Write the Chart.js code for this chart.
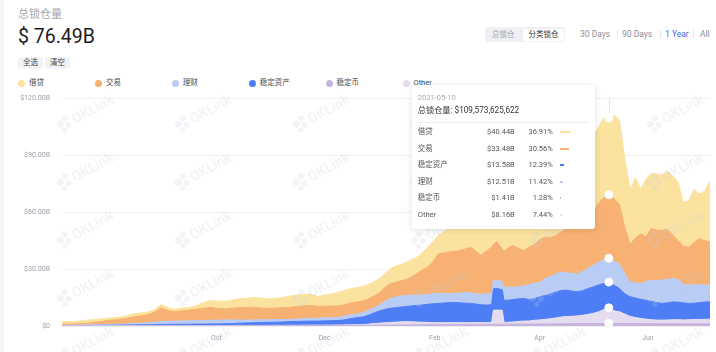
<!DOCTYPE html>
<html>
<head>
<meta charset="utf-8">
<script src="https://cdn.jsdelivr.net/npm/chart.js@4.4.1/dist/chart.umd.min.js"></script>
<style>
html,body{margin:0;padding:0;width:716px;height:352px;overflow:hidden;background:#f3f5f9;font-family:Roboto,"Noto Sans CJK SC",sans-serif;}
#card{position:absolute;left:4px;top:0;width:712px;height:352px;background:#fff;}
#title{position:absolute;left:18px;top:8px;font-size:11px;line-height:14px;color:#a3a7b0;}
#total{position:absolute;left:18px;top:26px;font-size:19.5px;line-height:22px;color:#1c1d21;}
.btn{position:absolute;top:57px;height:12px;line-height:12px;padding:0 5px;font-size:7.5px;color:#444;background:#f1f3f7;border-radius:3px;}
#seg{position:absolute;left:485px;top:27px;width:80px;height:15px;background:#eef0f4;border-radius:3px;font-size:7.5px;}
#seg .off{position:absolute;left:7px;top:0;line-height:15px;color:#a0a5ae;}
#seg .on{position:absolute;left:38px;top:1.5px;width:41px;height:12px;line-height:12px;text-align:center;background:#fff;border-radius:2px;color:#333;}
.rg{position:absolute;top:28px;font-size:8.5px;line-height:12px;color:#8b909a;}
.rg.act{color:#3b6ee8;}
.sep{position:absolute;top:30px;width:1px;height:8px;background:#e2e4ea;}
.lg{position:absolute;top:78px;height:10px;font-size:7.5px;line-height:10px;color:#4a4a4a;white-space:nowrap;}
.lg b{position:absolute;left:0;top:1.5px;width:7px;height:7px;border-radius:50%;}
.lg span{position:absolute;left:11px;top:0;}
#wrap{position:absolute;left:0;top:82px;width:716px;height:270px;}
#tip{position:absolute;display:none;width:171px;padding:7px 6px 6px 6px;background:#fff;border-radius:3px;box-shadow:0 1px 6px rgba(0,0,0,0.12);color:#555;}
#tip .d{font-size:7.5px;line-height:11px;color:#a8acb5;}
#tip .t{font-size:8.2px;line-height:13px;color:#333;margin-top:1px;}
#tip .s{border-top:1px solid #eceef2;margin:5px 0 1px 0;}
#tip .r{position:relative;height:16.5px;font-size:7.5px;line-height:16.5px;}
#tip .r .n{position:absolute;left:0;}
#tip .r .v{position:absolute;right:74px;}
#tip .r .p{position:absolute;right:36px;}
#tip .r i{position:absolute;left:142px;top:7px;height:2px;}
</style>
</head>
<body>
<div id="card"></div>
<div id="title">总锁仓量</div>
<div id="total"></div>
<div class="btn" style="left:18px">全选</div>
<div class="btn" style="left:45px">清空</div>
<div id="seg"><span class="off">总锁仓</span><span class="on">分类锁仓</span></div>
<span class="rg" style="left:580px">30 Days</span><i class="sep" style="left:617px"></i>
<span class="rg" style="left:622px">90 Days</span><i class="sep" style="left:660px"></i>
<span class="rg act" style="left:665px">1 Year</span><i class="sep" style="left:693px"></i>
<span class="rg" style="left:700px">All</span>
<div id="legend"></div>
<div id="wrap"><canvas id="c" width="716" height="270"></canvas><div id="tip"></div></div>
<script>
// day 0 = 2020-07-06
const startDate = Date.UTC(2020, 6, 6);

const days = [0,4,8,12,16,20,24,28,32,36,40,44,48,52,56,60,64,68,72,76,80,84,88,92,96,100,104,108,112,116,120,124,128,132,136,140,144,148,152,
  155,158,161,164,167,170,173,176,179,182,185,188,191,194,197,200,203,206,209,212,215,218,221,224,227,230,233,236,239,242,243,245,248,249,251,254,257,260,
  263,266,269,272,275,278,281,284,287,290,293,296,299,302,305,308,311,314,317,320,323,326,329,332,335,338,341,344,347,350,353,356,359,362,365];

// billions of USD
const lending = [1.4,1.3,1.4,1.6,1.7,1.5,1.3,1.3,1.2,1.2,1.7,1.5,1.3,1.4,1.7,1.6,1.2,1.4,1.5,1.9,3.2,3.6,3.9,4.0,4.3,4.6,4.8,5.2,5.1,4.9,5.1,5.4,5.9,6.0,5.9,5.8,5.2,5.9,6.4,
  7.0,7.3,7.6,7.6,7.5,7.6,7.5,7.5,7.5,7.3,7.8,8.6,8.6,9.0,9.0,8.4,9.1,10.5,10.5,9.9,11.0,13.0,15.7,20.2,22.5,23.5,20.5,19.8,21.5,22.5,22.0,22.5,24.5,25.5,27.0,27.5,31.0,29.2,
  30.5,32.0,32.5,33.2,36.5,38.5,39.5,41.0,40.5,38.0,39.5,40.0,41.0,40.0,42.0,40.441325622,44.0,44.5,36.0,29.0,31.5,23.5,30.5,29.0,29.5,29.2,30.5,31.0,31.0,23.0,24.5,28.0,23.5,26.0,32.3];
const trading = [0.6,0.65,0.7,0.8,1.0,1.4,1.9,2.1,2.4,2.9,3.4,3.8,4.3,5.2,7.2,5.5,5.0,5.4,5.6,6.0,6.5,6.8,6.1,5.8,6.2,6.6,6.7,6.7,6.2,6.0,6.0,6.2,6.3,6.6,6.8,7.0,6.2,6.1,6.2,
  6.0,6.0,6.2,6.3,6.4,6.2,6.0,6.2,6.5,7.5,7.8,7.8,8.0,8.3,9.8,11.5,13.2,14.4,17.0,20.9,21.5,21.8,22.2,22.5,22.9,24.0,22.5,20.5,22.6,24.3,19.0,20.4,17.2,19.0,20.4,22.1,20.3,18.8,
  19.7,20.5,22.7,21.8,20.5,20.2,21.0,23.0,24.7,24.8,26.0,26.8,27.2,31.0,32.5,33.4822,33.0,31.5,24.5,19.8,23.9,26.2,23.5,27.4,26.5,26.1,26.5,23.0,20.4,20.0,20.0,22.2,24.3,23.5,22.5];
const wealth = [0.18,0.2,0.25,0.29,0.36,0.4,0.44,0.52,0.55,0.6,0.78,0.9,1.02,1.3,1.6,1.62,1.7,1.82,1.85,1.9,1.88,1.95,2.0,2.0,1.9,1.6,1.5,1.5,1.5,1.4,1.4,1.3,1.2,1.2,1.3,1.4,1.5,1.6,1.6,
  1.6,1.9,2.0,1.9,1.9,2.3,2.7,2.8,3.0,4.2,5.3,5.5,5.8,5.9,5.6,5.4,5.2,5.2,5.3,5.2,4.9,4.9,4.7,5.1,5.6,5.6,5.4,5.5,5.9,5.9,4.4,4.3,4.3,6.8,7.0,6.5,6.4,6.5,
  7.8,8.1,7.4,9.0,9.2,9.5,9.8,9.1,9.4,9.2,10.0,10.6,11.3,12.0,12.6,12.5092,12.5,12.7,10.5,7.8,7.8,8.3,9.9,11.1,11.7,12.3,12.3,12.3,12.0,9.8,9.6,9.8,9.4,8.9,8.9];
const stableAssets = [0.06,0.07,0.09,0.11,0.14,0.2,0.22,0.27,0.3,0.36,0.39,0.44,0.46,0.52,0.6,0.64,0.69,0.68,0.73,0.76,0.75,0.8,0.83,0.93,1.0,1.2,1.28,1.4,1.46,1.57,1.64,1.75,1.92,2.0,2.1,2.15,2.14,2.23,2.3,
  2.38,2.55,3.0,3.45,3.8,4.1,4.8,5.7,6.5,7.1,7.4,7.7,7.8,8.0,8.4,8.8,9.1,9.5,9.9,10.2,10.4,10.6,10.6,10.5,10.3,10.2,9.8,9.4,9.2,9.4,11.3,11.4,10.7,11.6,11.7,11.8,11.9,11.9,
  11.4,11.4,12.2,12.5,13.0,13.6,14.0,13.9,13.3,12.7,12.9,13.5,13.9,14.1,13.8,13.5801,13.5,12.3,10.7,10.4,10.3,10.0,10.0,9.7,9.2,8.8,9.0,9.4,9.3,9.0,8.6,8.6,8.9,9.1,9.2];
const stablecoins = [0.03,0.03,0.03,0.04,0.04,0.05,0.05,0.05,0.06,0.06,0.07,0.07,0.08,0.08,0.09,0.09,0.1,0.1,0.1,0.11,0.11,0.12,0.12,0.13,0.13,0.14,0.15,0.15,0.16,0.17,0.18,0.19,0.2,0.21,0.22,0.23,0.24,0.26,0.28,
  0.3,0.31,0.33,0.34,0.36,0.37,0.41,0.42,0.45,0.48,0.5,0.53,0.55,0.58,0.6,0.61,0.65,0.66,0.69,0.7,0.73,0.74,0.77,0.78,0.82,0.81,0.84,0.87,0.88,0.91,0.91,0.92,0.95,0.95,0.96,0.99,1.0,1.03,
  1.04,1.07,1.08,1.11,1.12,1.16,1.18,1.21,1.22,1.26,1.28,1.31,1.33,1.37,1.39,1.4052,1.39,1.36,1.33,1.29,1.26,1.25,1.23,1.22,1.2,1.21,1.19,1.18,1.17,1.17,1.16,1.16,1.15,1.15,1.2];
const other = [0.03,0.04,0.05,0.05,0.06,0.06,0.07,0.08,0.08,0.09,0.09,0.1,0.1,0.11,0.11,0.11,0.11,0.12,0.13,0.13,0.14,0.14,0.15,0.15,0.16,0.16,0.16,0.17,0.17,0.17,0.17,0.17,0.18,0.19,0.2,0.21,0.22,0.22,0.22,
  0.22,0.24,0.28,0.31,0.35,0.43,0.6,0.88,1.05,1.23,1.4,1.48,1.65,1.73,1.6,1.48,1.36,1.24,1.12,1.0,0.98,0.96,1.04,0.92,0.9,0.88,0.96,0.94,0.92,1.0,7.39,7.48,7.36,0.95,0.94,1.12,1.4,1.58,
  1.56,1.94,2.12,2.4,2.68,3.05,3.52,3.8,3.88,4.05,4.32,4.8,5.27,6.04,7.21,8.1556,6.61,6.13,4.97,3.72,3.24,2.75,2.36,2.08,1.9,1.9,2.01,2.12,2.12,2.03,2.13,2.24,2.24,2.35,2.39];

const tickDays = [87, 148, 210, 269, 330];
const tickLabels = ['Oct', 'Dec', 'Feb', 'Apr', 'Jun'];
const yTicks = [0, 30, 60, 90, 120];
const yTickLabels = ['$0', '$30.00B', '$60.00B', '$90.00B', '$120.00B'];
const hoverDay = 308;

// legend order
const series = [
  { name: '借贷', values: lending, color: '#fce29f' },
  { name: '交易', values: trading, color: '#f7b172' },
  { name: '理财', values: wealth, color: '#b8ccf6' },
  { name: '稳定资产', values: stableAssets, color: '#4d7ef6' },
  { name: '稳定币', values: stablecoins, color: '#c7b4dd' },
  { name: 'Other', values: other, color: '#e5dcef' }
];
// bottom to top
const stackOrder = ['稳定币', 'Other', '稳定资产', '理财', '交易', '借贷'];

const last = days.length - 1;
const lastTotal = series.reduce((a, s) => a + s.values[last], 0);
document.getElementById('total').textContent = '$ ' + lastTotal.toFixed(2) + 'B';

const legend = document.getElementById('legend');
series.forEach((s, i) => {
  const d = document.createElement('div');
  d.className = 'lg';
  d.style.left = (18 + i * 76.9) + 'px';
  d.innerHTML = '<b style="background:' + s.color + '"></b><span>' + s.name + '</span>';
  legend.appendChild(d);
});

function fmt(v) { return '$' + v.toFixed(2) + 'B'; }

function externalTooltip(ctx) {
  const chart = ctx.chart, tooltip = ctx.tooltip;
  const el = document.getElementById('tip');
  if (tooltip.opacity === 0 || !tooltip.dataPoints || !tooltip.dataPoints.length) {
    el.style.display = 'none';
    return;
  }
  const i = tooltip.dataPoints[0].dataIndex;
  const rows = series.map(s => ({ name: s.name, v: s.values[i], color: s.color }));
  const total = rows.reduce((a, r) => a + r.v, 0);
  rows.sort((a, b) => ((a.name === 'Other') - (b.name === 'Other')) || (b.v - a.v));
  const date = new Date(startDate + days[i] * 864e5).toISOString().slice(0, 10);
  let html = '<div class="d">' + date + '</div>' +
    '<div class="t">总锁仓量: $' + Math.round(total * 1e9).toLocaleString('en-US') + '</div><div class="s"></div>';
  rows.forEach(r => {
    const pct = r.v / total * 100;
    html += '<div class="r"><span class="n">' + r.name + '</span><span class="v">' + fmt(r.v) +
      '</span><span class="p">' + pct.toFixed(2) + '%</span><i style="width:' + Math.max(1, pct * 0.3) +
      'px;background:' + r.color + '"></i></div>';
  });
  el.innerHTML = html;
  el.style.display = 'block';
  el.style.left = (tooltip.caretX - 14 - el.offsetWidth) + 'px';
  el.style.top = (chart.chartArea.top - 13) + 'px';
}

const hoverLine = {
  id: 'hoverLine',
  beforeDatasetsDraw(chart) {
    const a = chart.getActiveElements();
    if (!a.length) return;
    const x = Math.round(a[0].element.x) + 0.5;
    const c = chart.ctx;
    c.save();
    c.strokeStyle = '#e2e5eb';
    c.lineWidth = 1;
    c.beginPath();
    c.moveTo(x, chart.chartArea.top);
    c.lineTo(x, chart.chartArea.bottom);
    c.stroke();
    c.restore();
  }
};

const watermark = {
  id: 'watermark',
  afterDatasetsDraw(chart) {
    const c = chart.ctx;
    c.save();
    c.fillStyle = 'rgba(200,207,222,0.24)';
    c.font = 'bold 14px Roboto, sans-serif';
    for (let r = 0; r < 5; r++) {
      for (let k = 0; k < 6; k++) {
        c.save();
        c.translate(85 + k * 118, 113 + r * 58 - 82);
        c.rotate(-0.5);
        [[-27, -2, 3.6], [-20, -5, 3], [-20, 2.5, 3], [-26, 5.5, 2.6]].forEach(p => {
          c.beginPath(); c.arc(p[0], p[1], p[2], 0, Math.PI * 2); c.fill();
        });
        c.fillText('OKLink', -14, 5);
        c.restore();
      }
    }
    c.restore();
  }
};

Chart.defaults.font.family = 'Roboto, "Noto Sans CJK SC", sans-serif';

const datasets = stackOrder.map((name, k) => {
  const s = series.find(x => x.name === name);
  return {
    label: name,
    data: days.map((d, i) => ({ x: d, y: s.values[i] })),
    backgroundColor: s.color,
    borderColor: s.color,
    borderWidth: 1,
    fill: k === 0 ? 'origin' : '-1',
    pointRadius: 0,
    pointHoverRadius: 4,
    pointHoverBackgroundColor: '#fff',
    pointHoverBorderColor: '#fff',
    pointHoverBorderWidth: 1
  };
});

const chart = new Chart(document.getElementById('c'), {
  type: 'line',
  data: { datasets },
  options: {
    responsive: false,
    animation: false,
    layout: { padding: { top: 3, right: 6, left: 0, bottom: 0 } },
    interaction: { mode: 'index', intersect: false },
    plugins: {
      legend: { display: false },
      tooltip: { enabled: false, external: externalTooltip }
    },
    scales: {
      x: {
        type: 'linear', min: 0, max: 365,
        grid: { display: false, drawTicks: false },
        border: { display: false },
        afterBuildTicks: s => { s.ticks = tickDays.map(v => ({ value: v })); },
        afterFit: s => { s.height = 26; },
        ticks: {
          autoSkip: false, maxRotation: 0, padding: 8,
          color: '#9a9ea7', font: { size: 7 },
          callback: (v, i) => tickLabels[i]
        }
      },
      y: {
        stacked: true, min: 0, max: 120,
        afterBuildTicks: s => { s.ticks = yTicks.map(v => ({ value: v })); },
        afterFit: s => { s.width = 62; },
        grid: { color: '#eef0f4', drawTicks: false },
        border: { display: false },
        ticks: {
          padding: 12, color: '#9a9ea7', font: { size: 7 },
          callback: (v, i) => yTickLabels[i]
        }
      }
    }
  },
  plugins: [hoverLine, watermark]
});

const hi = days.indexOf(hoverDay);
const active = chart.data.datasets.map((_, di) => ({ datasetIndex: di, index: hi }));
chart.setActiveElements(active);
const pt = chart.getDatasetMeta(0).data[hi];
chart.tooltip.setActiveElements(active, { x: pt.x, y: pt.y });
chart.update();
</script>
</body>
</html>
